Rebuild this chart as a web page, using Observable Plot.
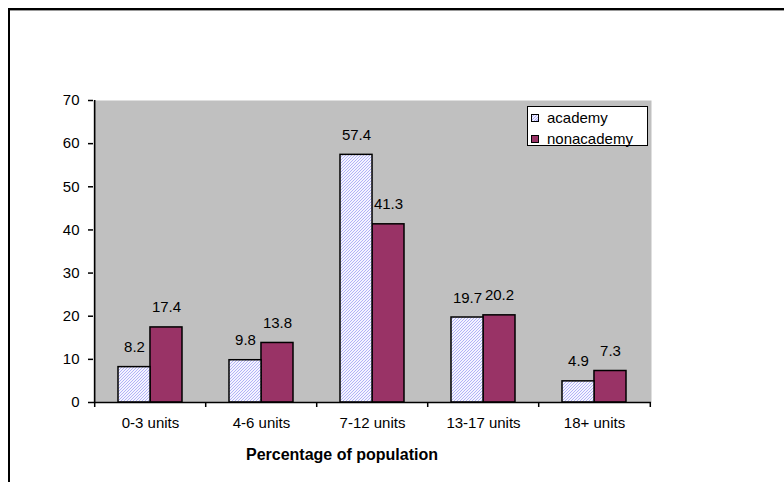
<!DOCTYPE html>
<html>
<head>
<meta charset="utf-8">
<script src="https://cdn.jsdelivr.net/npm/d3@7"></script>
<script src="https://cdn.jsdelivr.net/npm/@observablehq/plot@0.6"></script>
<style>
  body { margin: 0; background: #fff; font-family: "Liberation Sans", Arial, sans-serif; }
  #wrap { position: relative; width: 784px; height: 482px; overflow: hidden; }
  #border { position: absolute; left: 8px; top: 8px; width: 900px; height: 600px;
            border-top: 2px solid #000; border-left: 2px solid #000;
            box-shadow: -1px 1px 0 #999 inset; }
  #chart { position: absolute; left: 0; top: 0; }
  #legend { position: absolute; left: 527px; top: 106px; width: 119px; height: 38px;
            background: #fff; border: 1.5px solid #000; font-size: 15px; }
  .item { position: absolute; left: 3px; height: 17px; line-height: 17px; white-space: nowrap; }
  .sw { display: inline-block; width: 6px; height: 6px; border: 1px solid #000;
        vertical-align: middle; margin-right: 8px; position: relative; top: -1px; }
  .sw.academy { background: repeating-linear-gradient(135deg, #f0f0ff 0 1px, #b0b0f8 1px 2px); }
  .sw.nonacademy { background: #993366; }
  #xtitle { position: absolute; left: 0; width: 684px; top: 446px; text-align: center;
            font-weight: bold; font-size: 16px; }
</style>
</head>
<body>
<div id="wrap">
  <div id="border"></div>
  <div id="chart"></div>
  <div id="legend">
    <div class="item" style="top:2px"><span class="sw academy"></span>academy</div>
    <div class="item" style="top:23px"><span class="sw nonacademy"></span>nonacademy</div>
  </div>
  <div id="xtitle">Percentage of population</div>
</div>
<script>
// Share of population by number of units, academy vs. non-academy
const categories = ["0-3 units", "4-6 units", "7-12 units", "13-17 units", "18+ units"];
const academy = [8.2, 9.8, 57.4, 19.7, 4.9];
const nonacademy = [17.4, 13.8, 41.3, 20.2, 7.3];
const yTicks = [0, 10, 20, 30, 40, 50, 60, 70];

const rows = categories.map((c, i) => ({category: c, academy: academy[i], nonacademy: nonacademy[i]}));

const W = 784, H = 482;
const margin = {left: 93, right: 133, top: 100, bottom: 80};
const paddingInner = 0.427;
const step = (W - margin.left - margin.right) / categories.length;
const half = step * (1 - paddingInner) / 2; // width of one bar in a pair
const fs = 15;

const svg = Plot.plot({
  width: W,
  height: H,
  marginLeft: margin.left,
  marginRight: margin.right,
  marginTop: margin.top,
  marginBottom: margin.bottom,
  style: {fontFamily: "Liberation Sans, Arial, sans-serif", fontSize: fs + "px", color: "#000", background: "transparent", overflow: "visible"},
  x: {domain: categories, paddingInner, paddingOuter: paddingInner / 2, axis: null},
  y: {domain: [0, 70], axis: null},
  marks: [
    Plot.frame({fill: "#c0c0c0", stroke: "none"}),
    // non-academy bars and their labels
    Plot.barY(rows, {x: "category", y: "nonacademy", insetLeft: half, fill: "#993366", stroke: "#000", strokeWidth: 1.5}),
    Plot.text(rows, {x: "category", y: "nonacademy", text: d => String(d.nonacademy), dx: half / 2, dy: -15, lineAnchor: "bottom", fill: "#000", fontSize: fs}),
    // academy bars (hatched) and their labels
    Plot.barY(rows, {x: "category", y: "academy", insetRight: half, fill: "url(#hatch)", stroke: "#000", strokeWidth: 1.5}),
    Plot.text(rows, {x: "category", y: "academy", text: d => String(d.academy), dx: -half / 2, dy: -15, lineAnchor: "bottom", fill: "#000", fontSize: fs}),
    // axes
    Plot.ruleY([0], {stroke: "#000", strokeWidth: 1.5}),
    Plot.ruleX([categories[0]], {dx: -step / 2, stroke: "#000", strokeWidth: 1.5}),
    Plot.axisY({ticks: yTicks, tickSize: 5, tickPadding: 9, label: null, fontSize: fs, strokeWidth: 1.5}),
    Plot.axisX({tickSize: 0, tickPadding: 15, label: null, fontSize: fs}),
    Plot.axisX({tickSize: 5, dx: -step / 2, tickFormat: () => "", label: null, strokeWidth: 1.5}),
    Plot.axisX({ticks: [categories[categories.length - 1]], tickSize: 5, dx: step / 2, tickFormat: () => "", label: null, strokeWidth: 1.5})
  ]
});

// fine diagonal hatch used by the academy bars
const ns = "http://www.w3.org/2000/svg";
const defs = document.createElementNS(ns, "defs");
defs.innerHTML =
  '<pattern id="hatch" patternUnits="userSpaceOnUse" width="3" height="3">' +
  '<rect width="3" height="3" fill="#f4f4ff"/>' +
  '<path d="M-1,1 l2,-2 M0,3 l3,-3 M2,4 l2,-2" stroke="#b2b2f6" stroke-width="1"/>' +
  '</pattern>';
svg.insertBefore(defs, svg.firstChild);

document.getElementById("chart").appendChild(svg);
</script>
</body>
</html>
